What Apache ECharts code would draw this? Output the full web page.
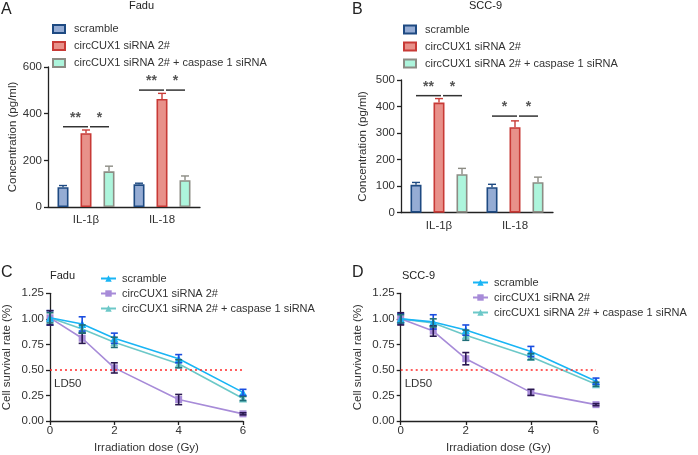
<!DOCTYPE html>
<html><head><meta charset="utf-8">
<script src="https://cdn.jsdelivr.net/npm/echarts@6/dist/echarts.min.js"></script>
<style>html,body{margin:0;padding:0;background:#fff}#c{width:698px;height:455px}</style>
</head><body><div id="c"></div>
<script>
// ---------- data ----------
const barCategories = ['IL-1β', 'IL-18'];
const barNames = ['scramble', 'circCUX1 siRNA 2#', 'circCUX1 siRNA 2# + caspase 1 siRNA'];
const faduScramble = [85, 97];      const faduScrambleErr = [7, 5];
const faduSi = [316, 463];          const faduSiErr = [14, 24];
const faduCasp = [153, 115];        const faduCaspErr = [22, 18];
const sccScramble = [105, 96];      const sccScrambleErr = [9, 11];
const sccSi = [415, 322];           const sccSiErr = [15, 24];
const sccCasp = [145, 115];         const sccCaspErr = [22, 19];
// significance: [category, fromBar, toBar, yValue, label]
const faduSig = [[0, 0, 1, 344, '**'], [0, 1, 2, 344, '*'], [1, 0, 1, 501, '**'], [1, 1, 2, 501, '*']];
const sccSig = [[0, 0, 1, 441, '**'], [0, 1, 2, 441, '*'], [1, 0, 1, 364, '*'], [1, 1, 2, 364, '*']];

const doses = [0, 1, 2, 4, 6];
const lineNames = ['scramble ', 'circCUX1 siRNA 2# ', 'circCUX1 siRNA 2# + caspase 1 siRNA '];
const faduLineScr = [1.01, 0.95, 0.81, 0.61, 0.28];  const faduLineScrErr = [0.07, 0.07, 0.05, 0.04, 0.03];
const faduLineSi = [1.01, 0.81, 0.52, 0.21, 0.07];   const faduLineSiErr = [0.07, 0.05, 0.05, 0.05, 0.01];
const faduLineCasp = [1.01, 0.90, 0.77, 0.56, 0.22]; const faduLineCaspErr = [0.05, 0.04, 0.05, 0.04, 0.02];
const sccLineScr = [1.00, 0.97, 0.89, 0.68, 0.39];   const sccLineScrErr = [0.05, 0.07, 0.05, 0.05, 0.03];
const sccLineSi = [1.00, 0.88, 0.61, 0.28, 0.16];    const sccLineSiErr = [0.06, 0.05, 0.06, 0.03, 0.01];
const sccLineCasp = [1.00, 0.96, 0.84, 0.63, 0.36];  const sccLineCaspErr = [0.04, 0.04, 0.05, 0.03, 0.02];
const ld50 = 0.5;

// ---------- styles ----------
const FONT = '"Liberation Sans", Arial, sans-serif';
const FS = 11;
const TXT = '#333';
const barFill = ['#95acd4', '#e8918a', '#adf5dc'];
const barBorder = ['#1e4a82', '#c83a36', '#8c8c84'];
const lineColor = ['#19b5f5', '#a78bd8', '#6cc8c8'];
const lineErrColor = ['#1a4de0', '#2a1850', '#1e6e78'];
const lineSymbol = ['triangle', 'rect', 'triangle'];
const BAR_STEP = 23, BAR_W = 11;

const chart = echarts.init(document.getElementById('c'), null, {renderer: 'canvas'});

const axisLine = {lineStyle: {color: '#222', width: 1.3}};
const axisTick = {length: 4, lineStyle: {color: '#222', width: 1.3}};
const axisLabel = {color: TXT, fontSize: FS + 0.5, fontFamily: FONT, margin: 5};

const grids = [
  {left: 48, top: 67, width: 152, height: 140},
  {left: 401, top: 80, width: 152, height: 132.7},
  {left: 48, top: 293.3, width: 195, height: 129.4},
  {left: 400.7, top: 293.3, width: 195.3, height: 129.4}
];

const xAxes = [0, 1].map(i => ({
  type: 'category', gridIndex: i, data: barCategories,
  axisLine, axisTick: Object.assign({alignWithLabel: true}, axisTick),
  axisLabel: Object.assign({}, axisLabel, {margin: 7})
})).concat([2, 3].map(i => ({
  type: 'value', gridIndex: i, min: 0, max: 6, interval: 2,
  axisLine, axisTick, splitLine: {show: false},
  axisLabel: Object.assign({}, axisLabel, {margin: 4}),
  name: 'Irradiation dose (Gy)', nameLocation: 'middle', nameGap: 21,
  nameTextStyle: {color: TXT, fontSize: FS + 0.5, fontFamily: FONT}
})));

const yAxes = [
  {max: 600, interval: 200, name: 'Concentration (pg/ml)', nameGap: 29},
  {max: 500, interval: 100, name: 'Concentration (pg/ml)', nameGap: 32},
  {max: 1.25, interval: 0.25, name: 'Cell survival rate (%)', nameGap: 37, fmt: true},
  {max: 1.25, interval: 0.25, name: 'Cell survival rate (%)', nameGap: 37, fmt: true}
].map((o, i) => ({
  type: 'value', gridIndex: i, min: 0, max: o.max, interval: o.interval,
  axisLine: Object.assign({show: true}, axisLine), axisTick: Object.assign({show: true}, axisTick),
  splitLine: {show: false},
  axisLabel: Object.assign({}, axisLabel, {margin: 6}, o.fmt ? {formatter: v => v.toFixed(2)} : {}),
  name: o.name, nameLocation: 'middle', nameGap: o.nameGap, nameRotate: 90,
  nameTextStyle: {color: TXT, fontSize: FS + 0.5, fontFamily: FONT}
}));

const series = [];

function addBarPanel(gi, vals, errs, sig) {
  vals.forEach((v, k) => {
    series.push({
      type: 'bar', name: barNames[k], xAxisIndex: gi, yAxisIndex: gi,
      data: v, barWidth: BAR_W, barGap: '109%',
      itemStyle: {color: barFill[k], borderColor: barBorder[k], borderWidth: 1.6},
      z: 3
    });
    series.push({
      type: 'custom', name: 'err' + gi + k, xAxisIndex: gi, yAxisIndex: gi,
      data: v.map((val, c) => [c, val, errs[k][c]]), z: 2,
      renderItem: (params, api) => {
        const off = (k - 1) * BAR_STEP;
        const p0 = api.coord([api.value(0), api.value(1)]);
        const p1 = api.coord([api.value(0), api.value(1) + api.value(2)]);
        const x = p0[0] + off;
        const st = {stroke: barBorder[k], lineWidth: 1.4};
        return {type: 'group', children: [
          {type: 'line', shape: {x1: x, y1: p0[1], x2: x, y2: p1[1]}, style: st},
          {type: 'line', shape: {x1: x - 4, y1: p1[1], x2: x + 4, y2: p1[1]}, style: st}
        ]};
      }
    });
  });
  series.push({
    type: 'custom', name: 'sig' + gi, xAxisIndex: gi, yAxisIndex: gi, z: 5,
    data: sig.map(s => s.slice(0, 4)),
    renderItem: (params, api) => {
      const s = sig[params.dataIndex];
      const p = api.coord([api.value(0), api.value(3)]);
      const from = api.value(1), to = api.value(2);
      const x1 = p[0] + (from - 1) * BAR_STEP + (from === 1 ? 4 : 0);
      const x2 = p[0] + (to - 1) * BAR_STEP + (to === 1 ? 2 : 0);
      return {type: 'group', children: [
        {type: 'line', shape: {x1, y1: p[1], x2, y2: p[1]}, style: {stroke: '#333', lineWidth: 1.5}},
        {type: 'text', x: (x1 + x2) / 2, y: p[1] - 2,
         style: {text: s[4], fill: '#555', font: 'bold 14px ' + FONT, textAlign: 'center', textVerticalAlign: 'bottom'}}
      ]};
    }
  });
}

function addLinePanel(gi, vals, errs) {
  vals.forEach((v, k) => {
    const s = {
      type: 'line', name: lineNames[k], xAxisIndex: gi, yAxisIndex: gi,
      data: doses.map((d, i) => [d, v[i]]),
      symbol: lineSymbol[k], symbolSize: k === 1 ? 7 : 8,
      lineStyle: {color: lineColor[k], width: 1.6},
      itemStyle: {color: lineColor[k]}, z: 4 - k
    };
    if (k === 0) {
      s.markLine = {
        silent: true, symbol: 'none',
        lineStyle: {color: '#ff2a2a', type: [2, 3], width: 1.6},
        label: {show: true, position: 'insideStartBottom', formatter: 'LD50', color: TXT,
                fontSize: FS + 0.5, fontFamily: FONT, distance: [4, 8]},
        data: [{yAxis: ld50}]
      };
    }
    series.push(s);
    series.push({
      type: 'custom', name: 'lerr' + gi + k, xAxisIndex: gi, yAxisIndex: gi, z: 5,
      data: doses.map((d, i) => [d, v[i], errs[k][i]]),
      renderItem: (params, api) => {
        const a = api.coord([api.value(0), api.value(1) + api.value(2)]);
        const b = api.coord([api.value(0), api.value(1) - api.value(2)]);
        const st = {stroke: lineErrColor[k], lineWidth: 1.6};
        return {type: 'group', children: [
          {type: 'line', shape: {x1: a[0], y1: a[1], x2: b[0], y2: b[1]}, style: st},
          {type: 'line', shape: {x1: a[0] - 3.5, y1: a[1], x2: a[0] + 3.5, y2: a[1]}, style: st},
          {type: 'line', shape: {x1: b[0] - 3.5, y1: b[1], x2: b[0] + 3.5, y2: b[1]}, style: st}
        ]};
      }
    });
  });
}

addBarPanel(0, [faduScramble, faduSi, faduCasp], [faduScrambleErr, faduSiErr, faduCaspErr], faduSig);
addBarPanel(1, [sccScramble, sccSi, sccCasp], [sccScrambleErr, sccSiErr, sccCaspErr], sccSig);
addLinePanel(2, [faduLineScr, faduLineSi, faduLineCasp], [faduLineScrErr, faduLineSiErr, faduLineCaspErr]);
addLinePanel(3, [sccLineScr, sccLineSi, sccLineCasp], [sccLineScrErr, sccLineSiErr, sccLineCaspErr]);

const legendText = {color: TXT, fontSize: FS, fontFamily: FONT};
const barLegend = (left, top) => ({
  data: barNames, orient: 'vertical', left, top, itemWidth: 12, itemHeight: 8, itemGap: 6,
  icon: 'rect', textStyle: Object.assign({padding: [0, 0, 0, 4]}, legendText), selectedMode: false, padding: 0
});
const lineLegend = (left, top) => ({
  data: lineNames, orient: 'vertical', left, top, itemWidth: 15, itemHeight: 8, itemGap: 4,
  textStyle: Object.assign({padding: [0, 0, 0, 1]}, legendText), selectedMode: false, padding: 0
});

const ttl = (text, left, top, size) => ({
  text, left, top, padding: 0,
  textStyle: {fontSize: size, fontWeight: 'normal', color: '#222', fontFamily: FONT}
});

chart.setOption({
  animation: false,
  title: [
    ttl('A', 1, 2, 16), ttl('Fadu', 129, 0, 11),
    ttl('B', 352, 2, 16), ttl('SCC-9', 469, 0, 11),
    ttl('C', 1, 265, 16), ttl('Fadu', 50, 270, 11),
    ttl('D', 352, 265, 16), ttl('SCC-9', 402, 270, 11)
  ],
  legend: [barLegend(52, 23.5), barLegend(403, 24), lineLegend(100, 273), lineLegend(472, 277)],
  grid: grids,
  xAxis: xAxes,
  yAxis: yAxes,
  series
});
</script></body></html>
